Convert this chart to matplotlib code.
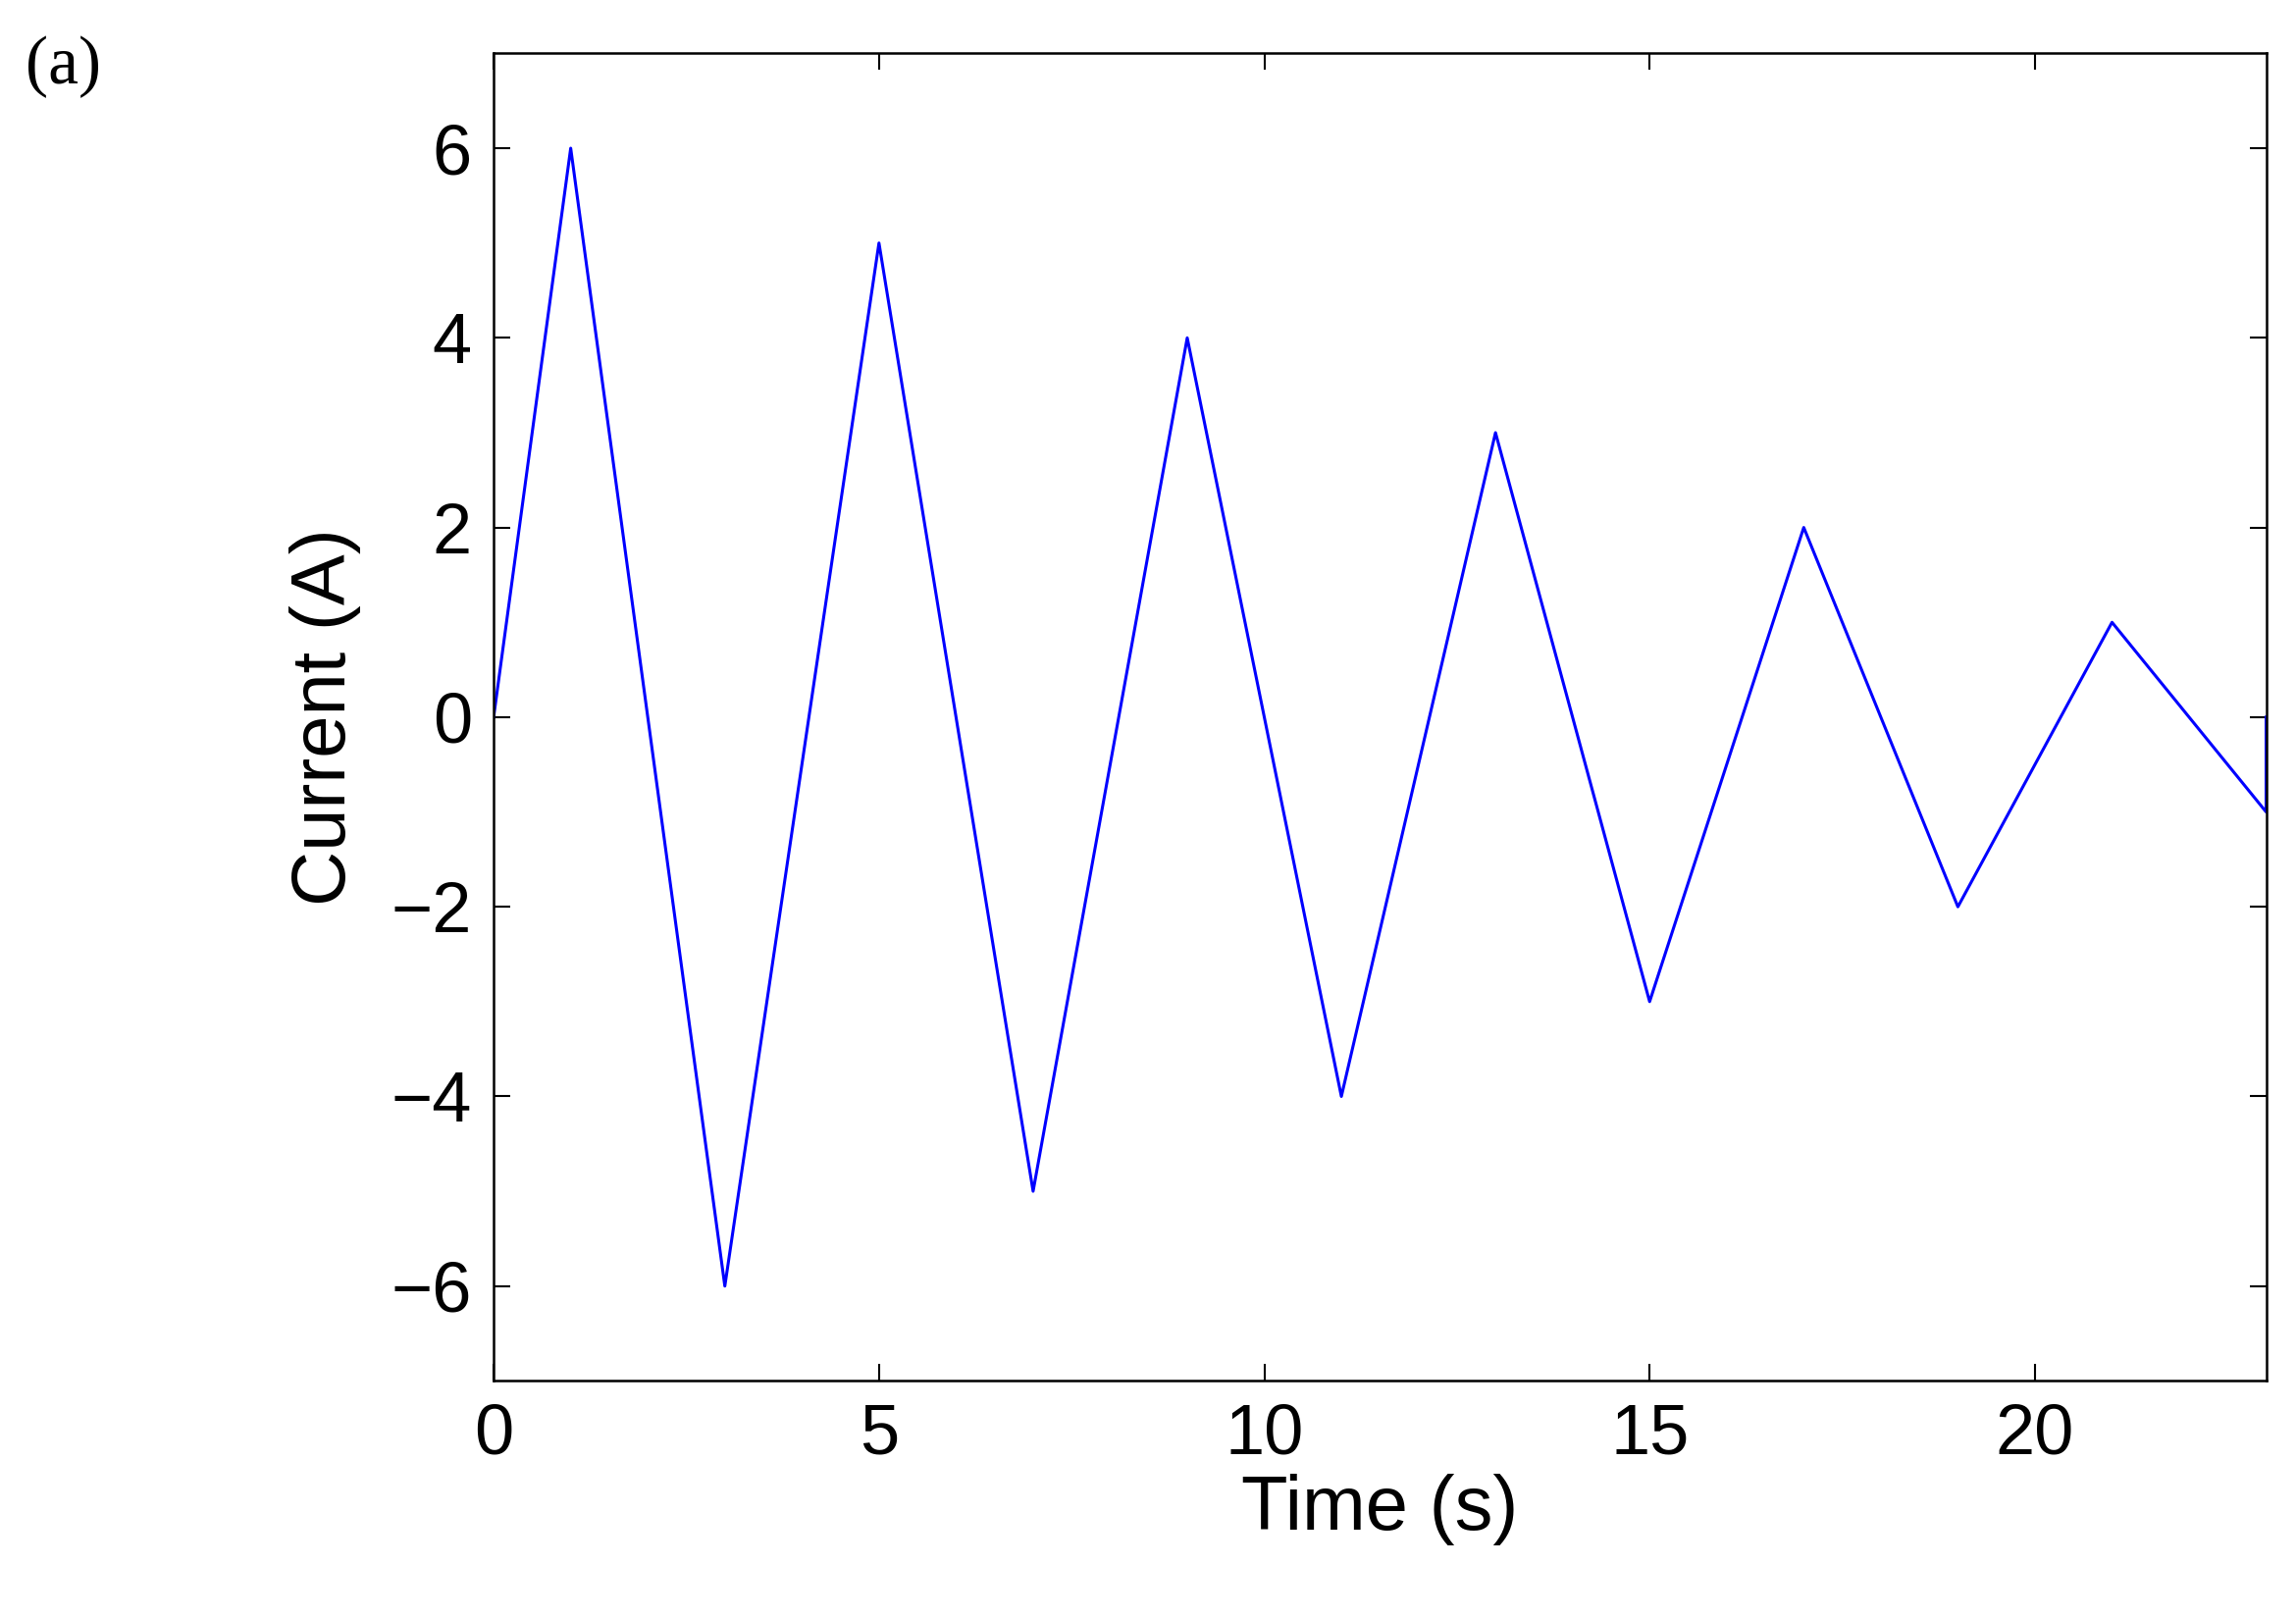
import matplotlib
matplotlib.use("Agg")
import matplotlib.pyplot as plt

time = [0, 1, 3, 5, 7, 9, 11, 13, 15, 17, 19, 21, 23, 23]
current = [0, 6, -6, 5, -5, 4, -4, 3, -3, 2, -2, 1, -1, 0]
xticks = [0, 5, 10, 15, 20]
yticks = [-6, -4, -2, 0, 2, 4, 6]

plt.rcParams['font.family'] = ['Liberation Sans', 'DejaVu Sans']
fig = plt.figure(figsize=(23.4, 16.48), dpi=100)
ax = fig.add_axes([0.215, 0.146, 0.772, 0.821])
ax.plot(time, current, color='#0000ff', lw=2.2)
ax.set_xlim(0, 23)
ax.set_ylim(-7, 7)
ax.set_xticks(xticks)
ax.set_yticks(yticks)
ax.set_yticklabels([f"\u2212{abs(v)}" if v < 0 else str(v) for v in yticks])
ax.tick_params(labelsize=52, direction='in', length=12, width=1.5, top=True, right=True, pad=16)
for s in ax.spines.values():
    s.set_linewidth(1.8)
ax.set_xlabel("Time (s)", fontsize=56, labelpad=4)
ax.set_ylabel("Current (A)", fontsize=56, labelpad=22)
fig.text(0.011, 0.978, "(a)", fontsize=50, family=['Liberation Serif', 'DejaVu Serif'], va='top')
fig.savefig("out.png", dpi=100)
